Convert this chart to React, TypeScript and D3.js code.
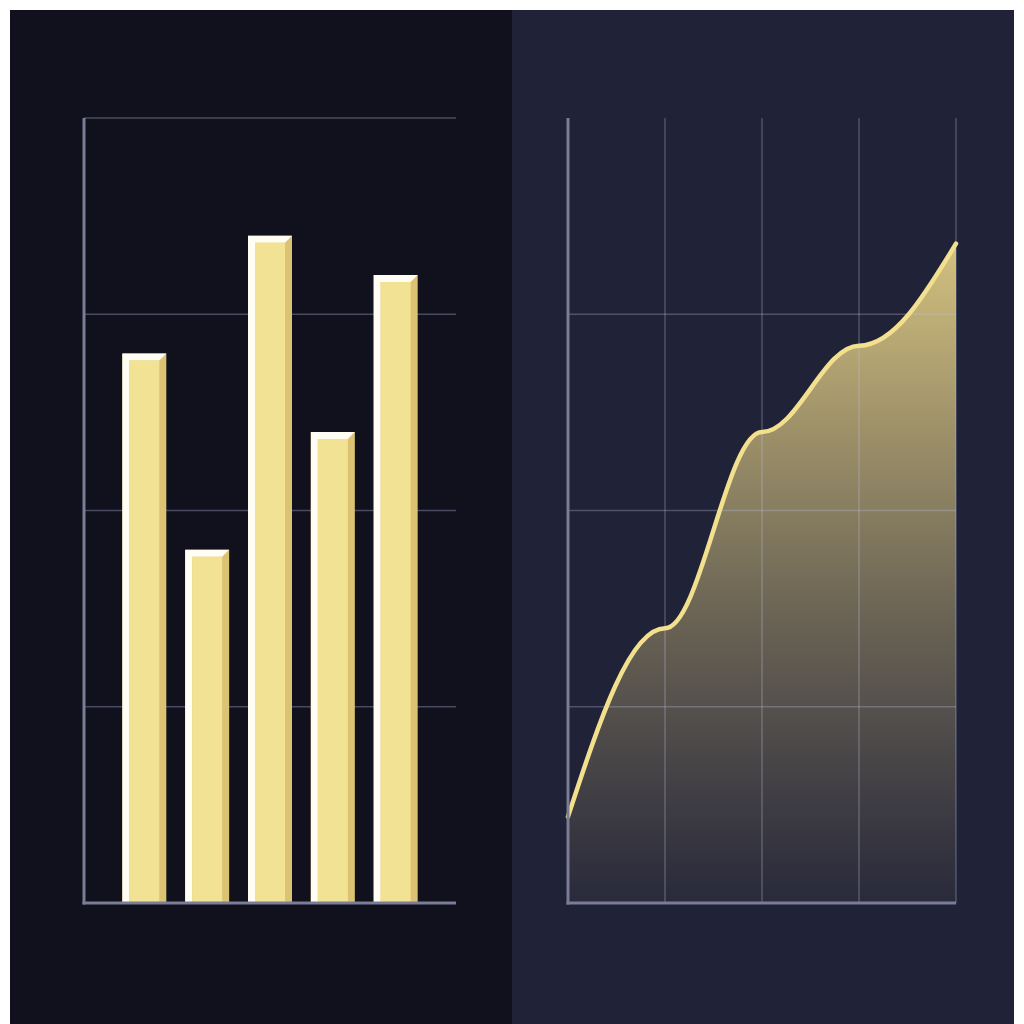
import React from 'react';
import * as d3 from 'd3';

// bar chart (left panel)
const barCategories = ['A', 'B', 'C', 'D', 'E'];
const barValues = [70, 45, 85, 60, 80];
const barGridTicks = [25, 50, 75, 100];

// area chart (right panel)
const areaCategories = ['P1', 'P2', 'P3', 'P4', 'P5'];
const areaValues = [11, 35, 60, 71, 84];
const areaGridTicks = [25, 50, 75];

const W = 1024;
const H = 1024;

// sine-like easing between points: flat tangent at inner points, steep at the ends
const curveEase = (context: any) => {
  let pts: [number, number][] = [];
  return {
    areaStart() {},
    areaEnd() {},
    lineStart() {
      pts = [];
    },
    point(x: number, y: number) {
      pts.push([+x, +y]);
    },
    lineEnd() {
      const n = pts.length;
      if (!n) return;
      context.moveTo(pts[0][0], pts[0][1]);
      for (let i = 1; i < n; i++) {
        const [x0, y0] = pts[i - 1];
        const [x1, y1] = pts[i];
        const dx = x1 - x0;
        const dy = y1 - y0;
        const first = i === 1;
        const last = i === n - 1;
        if (first && !last) {
          context.bezierCurveTo(x0 + 0.326 * dx, y0 + 0.5125 * dy, x0 + 0.638 * dx, y1, x1, y1);
        } else if (last && !first) {
          context.bezierCurveTo(x0 + 0.362 * dx, y0, x0 + 0.674 * dx, y0 + 0.4875 * dy, x1, y1);
        } else {
          context.bezierCurveTo(x0 + 0.364 * dx, y0, x0 + 0.636 * dx, y1, x1, y1);
        }
      }
    },
  };
};

const BarPanel: React.FC = () => {
  const x = d3
    .scaleBand<string>()
    .domain(barCategories)
    .range([84, 456])
    .paddingInner(0.3)
    .paddingOuter(0.61);
  const y = d3.scaleLinear().domain([0, 100]).range([903, 118]);
  const b = 7;
  const base = y(0);

  return (
    <g>
      {barGridTicks.map(t => (
        <line key={t} x1={84} x2={456} y1={y(t)} y2={y(t)} stroke="#474a60" strokeWidth={1.5} />
      ))}
      {barValues.map((v, i) => {
        const x0 = x(barCategories[i])!;
        const x1 = x0 + x.bandwidth();
        const top = y(v);
        return (
          <g key={barCategories[i]}>
            <rect x={x0} y={top} width={x1 - x0} height={base - top} fill="#dcc373" />
            <path
              d={`M${x0},${top}L${x1},${top}L${x1 - b},${top + b}L${x0 + b},${top + b}L${x0 + b},${base}L${x0},${base}Z`}
              fill="#fffdf4"
            />
            <rect x={x0 + b} y={top + b} width={x1 - x0 - 2 * b} height={base - top - b} fill="#f2e394" />
          </g>
        );
      })}
      <line x1={84} x2={84} y1={118} y2={base + 1.5} stroke="#7a7d95" strokeWidth={3} />
      <line x1={82.5} x2={456} y1={base} y2={base} stroke="#7a7d95" strokeWidth={3} />
    </g>
  );
};

const AreaPanel: React.FC = () => {
  const x = d3.scalePoint<string>().domain(areaCategories).range([568, 956]);
  const y = d3.scaleLinear().domain([0, 100]).range([903, 118]);
  const base = y(0);

  const line = d3
    .line<number>()
    .x((_, i) => x(areaCategories[i])!)
    .y(d => y(d))
    .curve(curveEase as any);
  const linePath = line(areaValues) || '';
  const areaPath =
    linePath +
    `L${x(areaCategories[areaCategories.length - 1])},${base}L${x(areaCategories[0])},${base}Z`;

  return (
    <g>
      <defs>
        <linearGradient id="areaFill" gradientUnits="userSpaceOnUse" x1={0} x2={0} y1={y(d3.max(areaValues)!)} y2={base}>
          <stop offset="0%" stopColor="#e3cf85" stopOpacity={0.92} />
          <stop offset="55%" stopColor="#d8c480" stopOpacity={0.42} />
          <stop offset="100%" stopColor="#cbb87c" stopOpacity={0.05} />
        </linearGradient>
      </defs>
      <path d={areaPath} fill="url(#areaFill)" />
      {areaGridTicks.map(t => (
        <line key={t} x1={568} x2={956} y1={y(t)} y2={y(t)} stroke="rgba(190,195,225,0.3)" strokeWidth={1.5} />
      ))}
      {areaCategories.slice(1).map(c => (
        <line key={c} x1={x(c)} x2={x(c)} y1={118} y2={base} stroke="rgba(190,195,225,0.3)" strokeWidth={1.5} />
      ))}
      <path d={linePath} fill="none" stroke="#f3e08e" strokeWidth={4.5} strokeLinecap="round" />
      <line x1={568} x2={568} y1={118} y2={base + 1.5} stroke="#7a7d95" strokeWidth={3} />
      <line x1={566.5} x2={956} y1={base} y2={base} stroke="#7a7d95" strokeWidth={3} />
    </g>
  );
};

export default function App() {
  return (
    <svg
      width={W}
      height={H}
      viewBox={`0 0 ${W} ${H}`}
      style={{ position: 'absolute', left: 0, top: 0, display: 'block' }}
    >
      <rect x={0} y={0} width={W} height={H} fill="#ffffff" />
      <rect x={10} y={10} width={502} height={H - 10} fill="#10111d" />
      <rect x={512} y={10} width={502} height={H - 10} fill="#202237" />
      <BarPanel />
      <AreaPanel />
    </svg>
  );
}
